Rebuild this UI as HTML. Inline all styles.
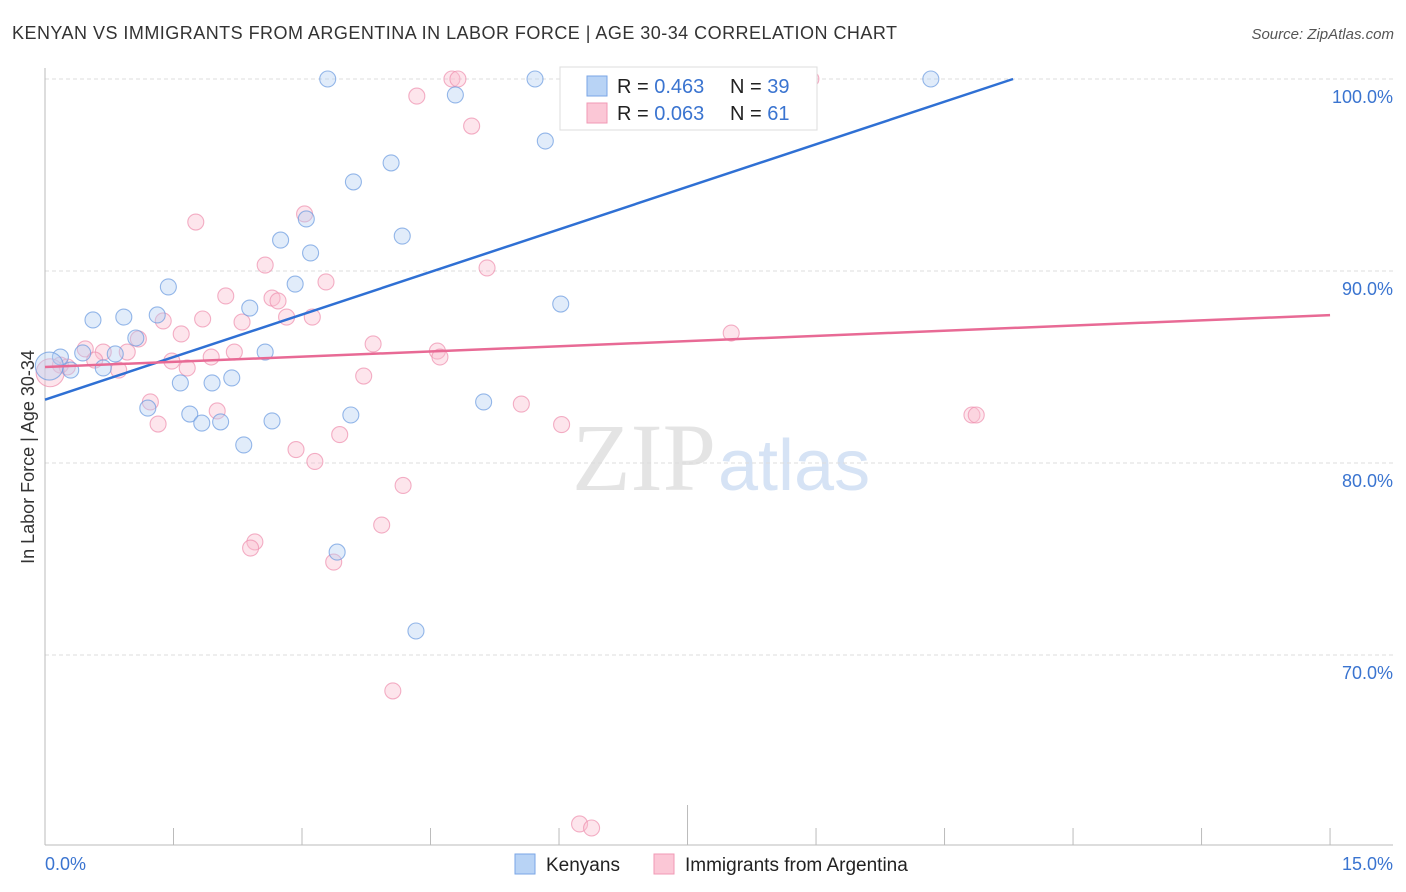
<!DOCTYPE html>
<html><head><meta charset="utf-8"><style>
body{margin:0;background:#fff;font-family:"Liberation Sans",sans-serif}
svg{display:block}
</style></head><body>
<svg id="c" width="1406" height="892" xmlns="http://www.w3.org/2000/svg">
<text x="12" y="39" font-size="18" fill="#333" textLength="885">KENYAN VS IMMIGRANTS FROM ARGENTINA IN LABOR FORCE | AGE 30-34 CORRELATION CHART</text>
<text x="1394" y="39" font-size="15" fill="#555" font-style="italic" text-anchor="end">Source: ZipAtlas.com</text>
<text x="716" y="490" font-size="96" fill="#e4e4e4" text-anchor="end" font-family="Liberation Serif,serif">ZIP</text>
<text x="718" y="490" font-size="72" fill="#d6e3f5">atlas</text>
<g id="grid"></g><g id="axes"></g><g id="pts"></g><g id="lines"></g>
<text x="0" y="0" transform="translate(34,457) rotate(-90)" text-anchor="middle" font-size="18" fill="#333">In Labor Force | Age 30-34</text>
<text x="45" y="870" font-size="18" fill="#3a74d0">0.0%</text>
<text x="1393" y="870" font-size="18" fill="#3a74d0" text-anchor="end">15.0%</text>
<g>
<rect x="560" y="67" width="257" height="63" fill="#fff" stroke="#ddd"/>
<rect x="587" y="76" width="20" height="20" fill="#b8d3f5" stroke="#7aa6e6"/>
<rect x="587" y="103" width="20" height="20" fill="#fbc7d6" stroke="#f09ab5"/>
<text x="617" y="93" font-size="20" fill="#222">R = <tspan fill="#3a74d0">0.463</tspan></text>
<text x="730" y="93" font-size="20" fill="#222">N = <tspan fill="#3a74d0">39</tspan></text>
<text x="617" y="120" font-size="20" fill="#222">R = <tspan fill="#3a74d0">0.063</tspan></text>
<text x="730" y="120" font-size="20" fill="#222">N = <tspan fill="#3a74d0"> 61</tspan></text>
</g>
<g>
<rect x="515" y="854" width="20" height="20" fill="#b8d3f5" stroke="#7aa6e6"/>
<text x="546" y="871" font-size="19" fill="#222">Kenyans</text>
<rect x="654" y="854" width="20" height="20" fill="#fbc7d6" stroke="#f09ab5"/>
<text x="685" y="871" font-size="19" fill="#222">Immigrants from Argentina</text>
</g>
</svg>
<script>
const yTicks=[100,90,80,70];
const yTickLabels=["100.0%","90.0%","80.0%","70.0%"];
const xTicks=[0,1.5,3,4.5,6,7.5,9,10.5,12,13.5,15];
const kenX=[3.30,5.72,10.34,4.79,5.84,4.04,3.60,3.05,4.17,2.75,3.10,1.44,2.92,6.02,2.39,0.56,0.92,1.31,1.06,0.44,0.82,0.18,0.05,0.30,0.68,2.57,2.18,1.58,1.95,1.20,1.69,1.83,2.05,2.65,3.57,5.12,2.32,3.41,4.33];
const kenY=[100,100,100,99.17,96.77,95.63,94.64,92.71,91.82,91.61,90.94,89.17,89.32,88.28,88.07,87.45,87.6,87.71,86.51,85.73,85.68,85.52,85.05,84.84,84.95,85.78,84.43,84.17,84.17,82.86,82.55,82.08,82.14,82.19,82.5,83.18,80.94,75.36,71.25];
const argX=[4.75,4.82,6.86,8.94,4.34,4.98,1.76,3.03,2.57,5.16,2.11,2.65,2.72,3.28,1.84,2.30,2.82,3.12,1.38,1.59,1.09,2.21,3.83,8.01,0.47,0.68,0.96,1.94,1.48,1.66,0.86,4.58,4.61,3.72,1.23,2.01,1.32,5.56,10.82,10.87,6.03,3.44,2.93,3.15,4.18,3.93,2.45,2.40,3.37,4.06,6.24,6.38,0.18,0.26,0.58,0.06];
const argY=[100,100,100,100,99.11,97.55,92.55,92.97,90.31,90.16,88.7,88.59,88.44,89.43,87.5,87.34,87.6,87.6,87.4,86.72,86.46,85.78,86.2,86.77,85.94,85.78,85.78,85.52,85.31,84.95,84.84,85.83,85.52,84.53,83.18,82.71,82.03,83.07,82.5,82.5,82.0,81.48,80.7,80.08,78.83,76.77,75.89,75.57,74.84,68.13,61.2,60.99,85.1,85.0,85.36,84.7];
const kenLine=[[0,83.3],[11.3,100]];
const argLine=[[0,85.0],[15,87.7]];
const sx=v=>45+v*85.67, sy=v=>79+(100-v)*19.2;
const NS="http://www.w3.org/2000/svg";
function mk(p,t,a){const e=document.createElementNS(NS,t);for(const k in a)e.setAttribute(k,a[k]);document.getElementById(p).appendChild(e);return e;}
yTicks.forEach((t,i)=>{
 const g=mk('grid','line',{x1:45,x2:1393,y1:sy(t),y2:sy(t),stroke:'#ddd','stroke-dasharray':'4,3'});
 
 
 const l=mk('grid','text',{x:1393,y:sy(t)+24,'font-size':18,fill:'#3a74d0','text-anchor':'end'});
 l.textContent=yTickLabels[i];
 
 
});
let ax=mk('axes','line',{x1:45,x2:1393,y1:845,y2:845,stroke:'#bbb'});


ax=mk('axes','line',{x1:45,x2:45,y1:68,y2:845,stroke:'#bbb'});


xTicks.forEach((t,i)=>{
 const e=mk('axes','line',{x1:sx(t),x2:sx(t),y1:i==5?805:828,y2:845,stroke:'#bbb'});
 
 
});
function pts(X,Y,fill,stroke,name){X.forEach((x,i)=>{
 const big=(x<0.1);
 const c=mk('pts','circle',{cx:sx(x),cy:sy(Y[i]),r:big?14:8,fill:fill,'fill-opacity':0.4,stroke:stroke,'stroke-opacity':0.7,'stroke-width':1.1});
 
 
});}
pts(argX,argY,'#f9bdd0','#ee8fae','argentina-point');
pts(kenX,kenY,'#b3cff3','#6a9ae0','kenyan-point');
let L=mk('lines','line',{x1:sx(kenLine[0][0]),y1:sy(kenLine[0][1]),x2:sx(kenLine[1][0]),y2:sy(kenLine[1][1]),stroke:'#2f70d4','stroke-width':2.5});


L=mk('lines','line',{x1:sx(argLine[0][0]),y1:sy(argLine[0][1]),x2:sx(argLine[1][0]),y2:sy(argLine[1][1]),stroke:'#e86a95','stroke-width':2.5});


</script>
</body></html>
